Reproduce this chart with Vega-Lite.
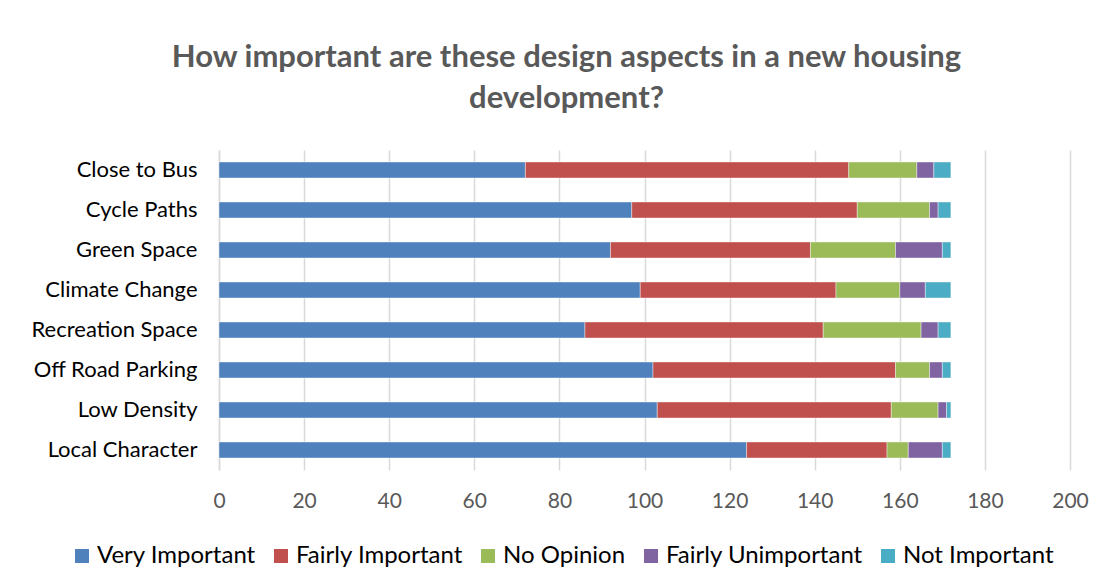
{
  "$schema": "https://vega.github.io/schema/vega-lite/v6.json",
  "width": 851,
  "height": 320,
  "autosize": {"type": "none"},
  "padding": {"left": 219, "top": 150, "right": 32, "bottom": 115},
  "background": "white",
  "title": {
    "text": ["How important are these design aspects in a new housing", "development?"],
    "anchor": "middle",
    "dx": -78,
    "font": "Lato",
    "fontSize": 31,
    "fontWeight": "bold",
    "color": "#595959",
    "lineHeight": 41,
    "offset": 35
  },
  "data": {
    "values": [
      {"aspect": "Close to Bus", "response": "Very Important", "level": 1, "count": 72},
      {"aspect": "Close to Bus", "response": "Fairly Important", "level": 2, "count": 76},
      {"aspect": "Close to Bus", "response": "No Opinion", "level": 3, "count": 16},
      {"aspect": "Close to Bus", "response": "Fairly Unimportant", "level": 4, "count": 4},
      {"aspect": "Close to Bus", "response": "Not Important", "level": 5, "count": 4},
      {"aspect": "Cycle Paths", "response": "Very Important", "level": 1, "count": 97},
      {"aspect": "Cycle Paths", "response": "Fairly Important", "level": 2, "count": 53},
      {"aspect": "Cycle Paths", "response": "No Opinion", "level": 3, "count": 17},
      {"aspect": "Cycle Paths", "response": "Fairly Unimportant", "level": 4, "count": 2},
      {"aspect": "Cycle Paths", "response": "Not Important", "level": 5, "count": 3},
      {"aspect": "Green Space", "response": "Very Important", "level": 1, "count": 92},
      {"aspect": "Green Space", "response": "Fairly Important", "level": 2, "count": 47},
      {"aspect": "Green Space", "response": "No Opinion", "level": 3, "count": 20},
      {"aspect": "Green Space", "response": "Fairly Unimportant", "level": 4, "count": 11},
      {"aspect": "Green Space", "response": "Not Important", "level": 5, "count": 2},
      {"aspect": "Climate Change", "response": "Very Important", "level": 1, "count": 99},
      {"aspect": "Climate Change", "response": "Fairly Important", "level": 2, "count": 46},
      {"aspect": "Climate Change", "response": "No Opinion", "level": 3, "count": 15},
      {"aspect": "Climate Change", "response": "Fairly Unimportant", "level": 4, "count": 6},
      {"aspect": "Climate Change", "response": "Not Important", "level": 5, "count": 6},
      {"aspect": "Recreation Space", "response": "Very Important", "level": 1, "count": 86},
      {"aspect": "Recreation Space", "response": "Fairly Important", "level": 2, "count": 56},
      {"aspect": "Recreation Space", "response": "No Opinion", "level": 3, "count": 23},
      {"aspect": "Recreation Space", "response": "Fairly Unimportant", "level": 4, "count": 4},
      {"aspect": "Recreation Space", "response": "Not Important", "level": 5, "count": 3},
      {"aspect": "Off Road Parking ", "response": "Very Important", "level": 1, "count": 102},
      {"aspect": "Off Road Parking ", "response": "Fairly Important", "level": 2, "count": 57},
      {"aspect": "Off Road Parking ", "response": "No Opinion", "level": 3, "count": 8},
      {"aspect": "Off Road Parking ", "response": "Fairly Unimportant", "level": 4, "count": 3},
      {"aspect": "Off Road Parking ", "response": "Not Important", "level": 5, "count": 2},
      {"aspect": "Low Density", "response": "Very Important", "level": 1, "count": 103},
      {"aspect": "Low Density", "response": "Fairly Important", "level": 2, "count": 55},
      {"aspect": "Low Density", "response": "No Opinion", "level": 3, "count": 11},
      {"aspect": "Low Density", "response": "Fairly Unimportant", "level": 4, "count": 2},
      {"aspect": "Low Density", "response": "Not Important", "level": 5, "count": 1},
      {"aspect": "Local Character", "response": "Very Important", "level": 1, "count": 124},
      {"aspect": "Local Character", "response": "Fairly Important", "level": 2, "count": 33},
      {"aspect": "Local Character", "response": "No Opinion", "level": 3, "count": 5},
      {"aspect": "Local Character", "response": "Fairly Unimportant", "level": 4, "count": 8},
      {"aspect": "Local Character", "response": "Not Important", "level": 5, "count": 2}
    ]
  },
  "mark": {"type": "bar", "stroke": "#ffffff", "strokeOpacity": 0.5, "strokeWidth": 0.8},
  "encoding": {
    "y": {
      "field": "aspect",
      "type": "nominal",
      "sort": ["Close to Bus", "Cycle Paths", "Green Space", "Climate Change", "Recreation Space", "Off Road Parking ", "Low Density", "Local Character"],
      "scale": {"paddingInner": 0.6, "paddingOuter": 0.3},
      "axis": {
        "title": null,
        "ticks": false,
        "domain": true,
        "domainColor": "#d9d9d9",
        "domainWidth": 1.5,
        "labelFont": "Lato",
        "labelFontSize": 22,
        "labelColor": "#000000",
        "labelPadding": 22
      }
    },
    "x": {
      "field": "count",
      "type": "quantitative",
      "stack": "zero",
      "scale": {"domain": [0, 200], "nice": false},
      "axis": {
        "title": null,
        "values": [0, 20, 40, 60, 80, 100, 120, 140, 160, 180, 200],
        "ticks": false,
        "domain": false,
        "grid": true,
        "gridColor": "#d9d9d9",
        "gridWidth": 1.5,
        "labelFont": "Lato",
        "labelFontSize": 21,
        "labelColor": "#595959",
        "labelPadding": 20,
        "labelFlush": false
      }
    },
    "order": {"field": "level", "type": "quantitative", "sort": "ascending"},
    "color": {
      "field": "response",
      "type": "nominal",
      "sort": ["Very Important", "Fairly Important", "No Opinion", "Fairly Unimportant", "Not Important"],
      "scale": {
        "domain": ["Very Important", "Fairly Important", "No Opinion", "Fairly Unimportant", "Not Important"],
        "range": ["#4F81BD", "#C0504D", "#9BBB59", "#8064A2", "#4BACC6"]
      },
      "legend": {
        "title": null,
        "orient": "none",
        "direction": "horizontal",
        "legendX": -149,
        "legendY": 394,
        "symbolType": "square",
        "symbolSize": 196,
        "symbolStrokeWidth": 0,
        "labelFont": "Lato",
        "labelFontSize": 24,
        "labelColor": "#000000",
        "labelOffset": 3,
        "columnPadding": 13,
        "labelLimit": 300
      }
    }
  },
  "config": {
    "view": {"stroke": null}
  }
}
